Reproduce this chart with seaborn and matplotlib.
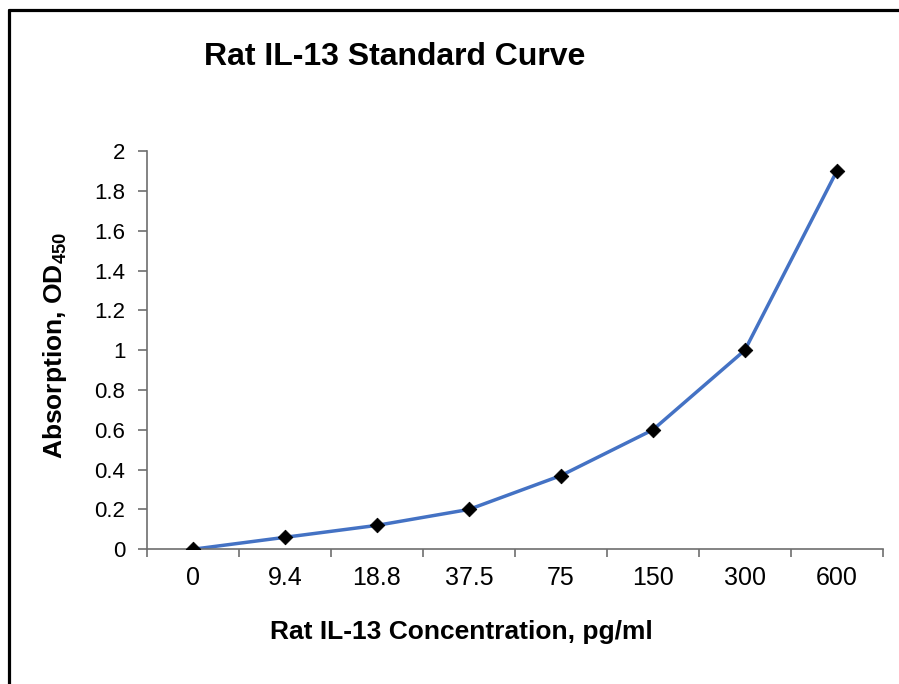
import numpy as np
import pandas as pd
import matplotlib
matplotlib.use("Agg")
import matplotlib.pyplot as plt
from matplotlib.lines import Line2D
from matplotlib.ticker import FixedLocator, FuncFormatter
import seaborn as sb

conc_labels = ["0", "9.4", "18.8", "37.5", "75", "150", "300", "600"]
od_values = [0.0, 0.06, 0.12, 0.2, 0.37, 0.6, 1.0, 1.9]

df = pd.DataFrame({"conc": conc_labels, "od": od_values})

sb.set_theme(style="white")
plt.rcParams['font.family'] = ['Liberation Sans', 'DejaVu Sans']
plt.rcParams['mathtext.fontset'] = 'custom'
plt.rcParams['mathtext.rm'] = 'Liberation Sans'
plt.rcParams['mathtext.bf'] = 'Liberation Sans:bold'
for k in ['text.color', 'axes.labelcolor', 'xtick.color', 'ytick.color']:
    plt.rcParams[k] = 'black'

fig = plt.figure(figsize=(8.99, 6.84), dpi=100)
ax = fig.add_axes([0.1635, 0.197, 0.8185, 0.582])

sb.lineplot(data=df, x="conc", y="od", color='#4472c4', linewidth=2.5,
            errorbar=None, ax=ax, sort=False)
sb.scatterplot(data=df, x="conc", y="od", color='black', marker='D', s=55,
               edgecolor='black', zorder=5, ax=ax)

ax.set_xlim(-0.5, 7.5)
ax.set_ylim(0, 2)

ax.set_xticks(range(len(conc_labels)))
ax.set_xticklabels(conc_labels, fontsize=18)
ax.xaxis.set_minor_locator(FixedLocator(np.arange(-0.5, 8, 1)))
ax.tick_params(axis='x', which='major', length=0, pad=12)
ax.tick_params(axis='x', which='minor', length=6, width=1.2, color='#6e6e6e', direction='out', bottom=True)

ax.set_yticks(np.arange(0, 2.01, 0.2))
ax.yaxis.set_major_formatter(FuncFormatter(lambda v, p: "%g" % round(v, 1)))
ax.tick_params(axis='y', which='major', length=6.5, width=1.2, color='#6e6e6e', direction='out',
               left=True, pad=9, labelsize=16)

for s in ['top', 'right']:
    ax.spines[s].set_visible(False)
for s in ['left', 'bottom']:
    ax.spines[s].set_color('#6e6e6e')
    ax.spines[s].set_linewidth(1.2)

ax.set_xlabel("Rat IL-13 Concentration, pg/ml", fontsize=19, fontweight='bold')
ax.xaxis.set_label_coords(0.427, -0.178)
ax.set_ylabel(r"Absorption, OD$_\mathbf{450}$", fontsize=19, fontweight='bold')
ax.yaxis.set_label_coords(-0.106, 0.513)

fig.text(0.439, 0.917, "Rat IL-13 Standard Curve", fontsize=23, fontweight='bold', ha='center', va='center')

fig.add_artist(Line2D([0.0105, 0.0105], [0.0, 0.985], color='black', linewidth=2.3))
fig.add_artist(Line2D([0.0105, 1.0], [0.985, 0.985], color='black', linewidth=2.3))

fig.savefig("out.png", dpi=100)
